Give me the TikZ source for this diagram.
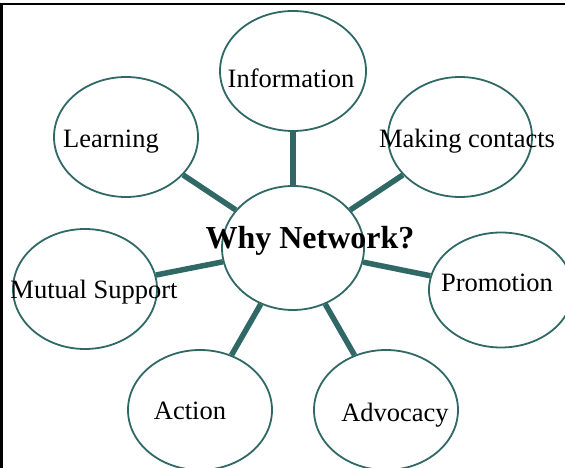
\documentclass[tikz,border=0pt]{standalone}
\usepackage{fontspec}
\setmainfont{Liberation Serif}
\usetikzlibrary{shapes.geometric}
\definecolor{netteal}{RGB}{47,104,101}

\begin{document}
\begin{tikzpicture}[x=1pt, y=1pt,
		bubble/.style={ellipse, draw=netteal, line width=1.8pt, fill=white, inner sep=0pt, minimum width=144pt, minimum height=120pt},
		spoke/.style={draw=netteal, line width=5.5pt},
		word/.style={inner sep=0pt, font=\fontsize{26.5}{30}\selectfont},
		hubword/.style={inner sep=0pt, font=\fontsize{32}{36}\selectfont\bfseries}]
		%%%%% START %%%%%
		\useasboundingbox (0, 0) rectangle (565, 468);
		
		\node[bubble, minimum width=142pt, minimum height=124pt] (hub) at (293, 220) {};
		
		\node[bubble, minimum width=146pt] (info) at (293, 397) {};
		\node[bubble] (contacts) at (460, 331) {};
		\node[bubble] (learning) at (126, 331) {};
		\node[bubble] (support) at (85, 179) {};
		\node[bubble, minimum height=115pt] (promo) at (501, 178) {};
		\node[bubble] (action) at (200, 58) {};
		\node[bubble] (advocacy) at (386, 58) {};
		
		\draw[spoke] (hub) -- (info);
		\draw[spoke] (hub) -- (contacts);
		\draw[spoke] (hub) -- (learning);
		\draw[spoke] (hub) -- (support);
		\draw[spoke] (hub) -- (promo);
		\draw[spoke] (hub) -- (action);
		\draw[spoke] (hub) -- (advocacy);
		
		\node[hubword] (hubtext) at (310, 227) {Why Network?};
		\node[word] (infotext) at (291, 390) {Information};
		\node[word] (contactstext) at (467, 327) {Making contacts};
		\node[word] (learningtext) at (111, 326) {Learning};
		\node[word] (supporttext) at (94, 176) {Mutual Support};
		\node[word] (promotext) at (497, 185) {Promotion};
		\node[word] (actiontext) at (190, 57) {Action};
		\node[word] (advocacytext) at (395, 53) {Advocacy};
		
		% frame edges
		\draw[line width=2.5pt] (1.5, 0) -- (1.5, 464) -- (565, 464);
		%%%%% END %%%%%
	\end{tikzpicture}
\end{document}
